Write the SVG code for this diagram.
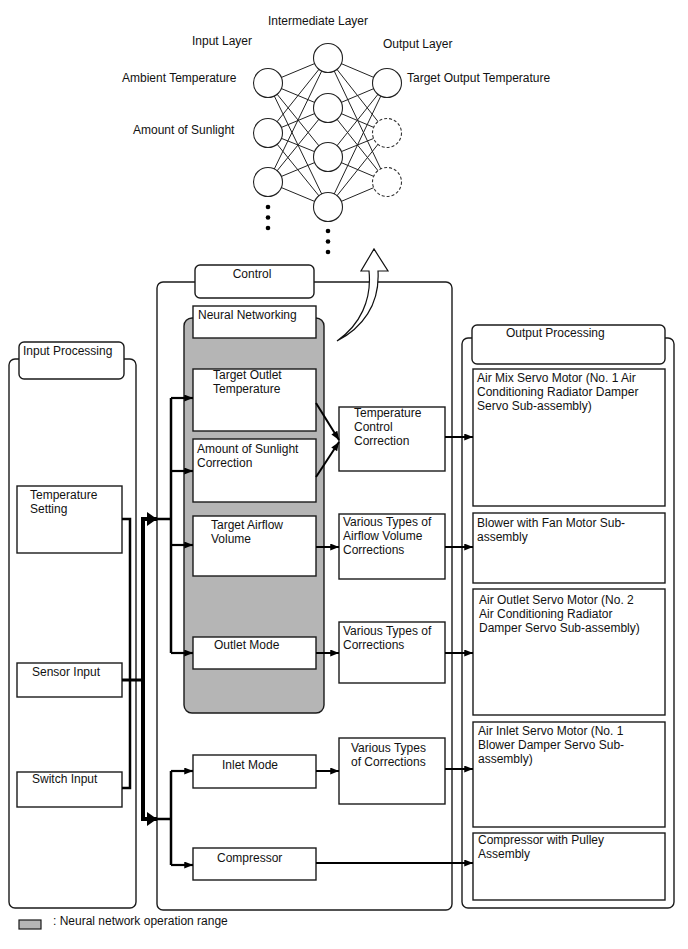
<svg xmlns="http://www.w3.org/2000/svg" width="688" height="949" viewBox="0 0 688 949">
<defs>
<style>
text{font-family:"Liberation Sans",Arial,sans-serif;font-size:12px;fill:#111}
.box{fill:#fff;stroke:#1a1a1a;stroke-width:1.4}
.cont{fill:#fff;stroke:#1a1a1a;stroke-width:1.4}
.nn{stroke:#222;stroke-width:1;fill:none}
.node{fill:#fff;stroke:#222;stroke-width:1.1}
.dash{fill:#fff;stroke:#333;stroke-width:1.1;stroke-dasharray:3 2}
.ln{fill:none;stroke:#000;stroke-linejoin:miter}
</style>
<marker id="ah" viewBox="0 0 10 8" refX="10" refY="4" markerWidth="10" markerHeight="7" markerUnits="userSpaceOnUse" orient="auto"><path d="M0 0L10 4L0 8Z" fill="#000"/></marker>
<marker id="big" viewBox="0 0 10 14" refX="10" refY="7" markerWidth="10" markerHeight="14" markerUnits="userSpaceOnUse" orient="auto"><path d="M0 0L10 7L0 14Z" fill="#000"/></marker>
</defs>
<rect width="688" height="949" fill="#fff"/>

<g id="neural-network">
<g class="nn">
<path d="M268 83L328 58M268 83L328 108M268 83L328 157M268 83L328 207M268 133L328 58M268 133L328 108M268 133L328 157M268 133L328 207M268 182L328 58M268 182L328 108M268 182L328 157M268 182L328 207"/>
<path d="M328 58L387 83M328 58L387 133M328 58L387 182M328 108L387 83M328 108L387 133M328 108L387 182M328 157L387 83M328 157L387 133M328 157L387 182M328 207L387 83M328 207L387 133M328 207L387 182"/>
</g>
<circle class="node" cx="268" cy="83" r="14.5"/>
<circle class="node" cx="268" cy="133" r="14.5"/>
<circle class="node" cx="268" cy="182" r="14.5"/>
<circle class="node" cx="328" cy="58" r="14.5"/>
<circle class="node" cx="328" cy="108" r="14.5"/>
<circle class="node" cx="328" cy="157" r="14.5"/>
<circle class="node" cx="328" cy="207" r="14.5"/>
<circle class="node" cx="387" cy="83" r="14.5"/>
<circle class="dash" cx="387" cy="133" r="14.5"/>
<circle class="dash" cx="387" cy="182" r="14.5"/>
<g fill="#000">
<circle cx="268" cy="207" r="2.3"/><circle cx="268" cy="217.5" r="2.3"/><circle cx="268" cy="228" r="2.3"/>
<circle cx="328" cy="231" r="2.3"/><circle cx="328" cy="241.5" r="2.3"/><circle cx="328" cy="252" r="2.3"/>
</g>
<text x="318" y="25" text-anchor="middle">Intermediate Layer</text>
<text x="192" y="45">Input Layer</text>
<text x="383" y="48">Output Layer</text>
<text x="122" y="82">Ambient Temperature</text>
<text x="133" y="134">Amount of Sunlight</text>
<text x="407" y="82">Target Output Temperature</text>
</g>

<g id="input-processing">
<rect class="cont" x="9" y="359" width="127" height="549" rx="6"/>
<rect class="cont" x="19" y="342" width="105" height="37" rx="5"/>
<text x="23" y="355">Input Processing</text>
</g>
<g id="temperature-setting">
<rect class="box" x="17" y="486" width="105" height="67"/>
<text x="30" y="499">Temperature</text><text x="30" y="513">Setting</text>
</g>
<g id="sensor-input">
<rect class="box" x="17" y="663" width="105" height="34"/>
<text x="32" y="676">Sensor Input</text>
</g>
<g id="switch-input">
<rect class="box" x="17" y="772" width="105" height="35"/>
<text x="32" y="783">Switch Input</text>
</g>

<g id="control">
<rect class="cont" x="157" y="282" width="295" height="628" rx="6"/>
<rect class="cont" x="195" y="265" width="119" height="33" rx="5"/>
<text x="252" y="278" text-anchor="middle">Control</text>
</g>
<g id="neural-networking">
<rect x="184" y="318" width="140" height="395" rx="8" fill="#b5b5b5" stroke="#1a1a1a" stroke-width="1.4"/>
<rect class="box" x="193" y="306" width="123" height="32"/>
<text x="198" y="319">Neural Networking</text>
</g>
<g id="target-outlet-temperature">
<rect class="box" x="193" y="369" width="123" height="62"/>
<text x="213" y="379">Target Outlet</text><text x="213" y="393">Temperature</text>
</g>
<g id="amount-of-sunlight-correction">
<rect class="box" x="193" y="439" width="123" height="63"/>
<text x="197" y="453">Amount of Sunlight</text><text x="197" y="467">Correction</text>
</g>
<g id="target-airflow-volume">
<rect class="box" x="193" y="516" width="123" height="60"/>
<text x="211" y="529">Target Airflow</text><text x="211" y="543">Volume</text>
</g>
<g id="outlet-mode">
<rect class="box" x="193" y="637" width="123" height="32"/>
<text x="214" y="649">Outlet Mode</text>
</g>
<g id="inlet-mode">
<rect class="box" x="193" y="755" width="123" height="33"/>
<text x="222" y="769">Inlet Mode</text>
</g>
<g id="compressor">
<rect class="box" x="193" y="848" width="123" height="32"/>
<text x="217" y="862">Compressor</text>
</g>
<g id="temperature-control-correction">
<rect class="box" x="339" y="407" width="106" height="64"/>
<text x="354" y="417">Temperature</text><text x="354" y="431">Control</text><text x="354" y="445">Correction</text>
</g>
<g id="airflow-volume-corrections">
<rect class="box" x="339" y="514" width="106" height="65"/>
<text x="343" y="526">Various Types of</text><text x="343" y="540">Airflow Volume</text><text x="343" y="554">Corrections</text>
</g>
<g id="outlet-corrections">
<rect class="box" x="339" y="622" width="106" height="61"/>
<text x="343" y="635">Various Types of</text><text x="343" y="649">Corrections</text>
</g>
<g id="inlet-corrections">
<rect class="box" x="339" y="738" width="106" height="66"/>
<text x="351" y="752">Various Types</text><text x="351" y="766">of Corrections</text>
</g>

<g id="output-processing">
<rect class="cont" x="462" y="338" width="212" height="570" rx="6"/>
<rect class="cont" x="472" y="325" width="193" height="39" rx="5"/>
<text x="506" y="337">Output Processing</text>
</g>
<g id="air-mix-servo-motor">
<rect class="box" x="473" y="369" width="192" height="137"/>
<text x="477" y="382">Air Mix Servo Motor (No. 1 Air</text><text x="477" y="396">Conditioning Radiator Damper</text><text x="477" y="410">Servo Sub-assembly)</text>
</g>
<g id="blower-with-fan-motor">
<rect class="box" x="473" y="513" width="192" height="70"/>
<text x="477" y="527">Blower with Fan Motor Sub-</text><text x="477" y="541">assembly</text>
</g>
<g id="air-outlet-servo-motor">
<rect class="box" x="473" y="589" width="192" height="126"/>
<text x="479" y="604">Air Outlet Servo Motor (No. 2</text><text x="479" y="618">Air Conditioning Radiator</text><text x="479" y="632">Damper Servo Sub-assembly)</text>
</g>
<g id="air-inlet-servo-motor">
<rect class="box" x="473" y="722" width="192" height="105"/>
<text x="478" y="735">Air Inlet Servo Motor (No. 1</text><text x="478" y="749">Blower Damper Servo Sub-</text><text x="478" y="763">assembly)</text>
</g>
<g id="compressor-with-pulley">
<rect class="box" x="473" y="833" width="192" height="67"/>
<text x="478" y="844">Compressor with Pulley</text><text x="478" y="858">Assembly</text>
</g>

<g id="connectors">
<path class="ln" stroke-width="2.5" d="M122 519H130V788H122"/>
<path class="ln" stroke-width="3" d="M122 680H143"/>
<path class="ln" stroke-width="4" d="M143 517V821"/>
<path class="ln" stroke-width="4" d="M141 519H157" marker-end="url(#big)"/>
<path class="ln" stroke-width="4" d="M141 819H157" marker-end="url(#big)"/>
<path class="ln" stroke-width="2.5" d="M157 519H171M171 398V653M157 819H171M171 771V865"/>
<path class="ln" stroke-width="2.2" d="M171 398H193" marker-end="url(#ah)"/>
<path class="ln" stroke-width="2.2" d="M171 471H193" marker-end="url(#ah)"/>
<path class="ln" stroke-width="2.2" d="M171 545H193" marker-end="url(#ah)"/>
<path class="ln" stroke-width="2.2" d="M171 653H193" marker-end="url(#ah)"/>
<path class="ln" stroke-width="2.2" d="M171 771H193" marker-end="url(#ah)"/>
<path class="ln" stroke-width="2.2" d="M171 865H193" marker-end="url(#ah)"/>
<path class="ln" stroke-width="2" d="M316 403L339 440" marker-end="url(#ah)"/>
<path class="ln" stroke-width="2" d="M316 477L339 442" marker-end="url(#ah)"/>
<path class="ln" stroke-width="2" d="M316 547H339" marker-end="url(#ah)"/>
<path class="ln" stroke-width="2" d="M316 653H339" marker-end="url(#ah)"/>
<path class="ln" stroke-width="2" d="M316 771H339" marker-end="url(#ah)"/>
<path class="ln" stroke-width="2" d="M445 437H473" marker-end="url(#ah)"/>
<path class="ln" stroke-width="2" d="M445 547H473" marker-end="url(#ah)"/>
<path class="ln" stroke-width="2" d="M445 653H473" marker-end="url(#ah)"/>
<path class="ln" stroke-width="2" d="M445 769H473" marker-end="url(#ah)"/>
<path class="ln" stroke-width="2" d="M316 863H473" marker-end="url(#ah)"/>
<path d="M337 341C360 325 372 300 369 271L361 271L374 249L388 271L378 271C380 305 362 328 337 341Z" fill="#fff" stroke="#111" stroke-width="1.2" stroke-linejoin="miter"/>
</g>

<g id="legend">
<rect x="19" y="920" width="22" height="9" fill="#b5b5b5" stroke="#1a1a1a" stroke-width="1.2"/>
<text x="53" y="925">: Neural network operation range</text>
</g>
</svg>
